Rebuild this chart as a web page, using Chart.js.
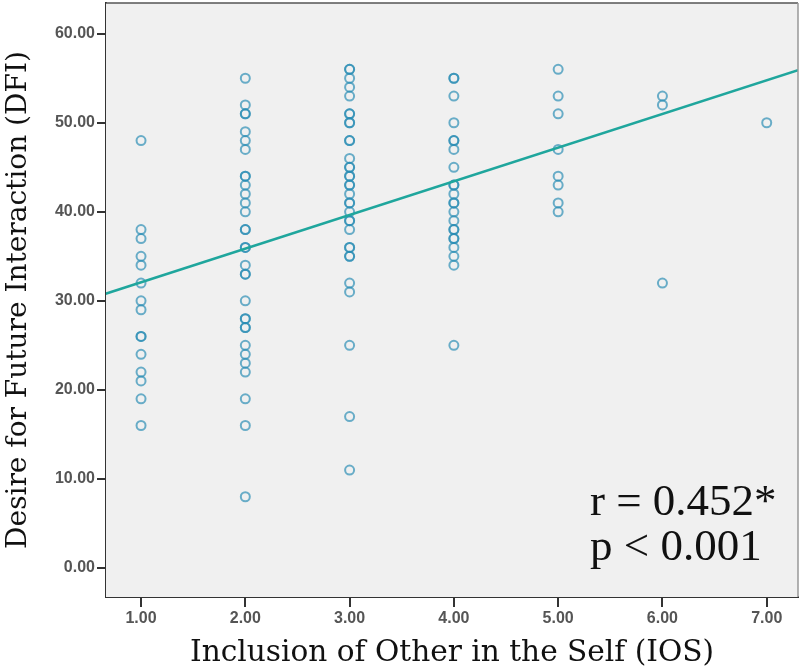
<!DOCTYPE html>
<html lang="en">
<head>
  <meta charset="UTF-8" />
  <title>IOS vs DFI</title>
  <script src="https://cdn.jsdelivr.net/npm/chart.js@4.4.0/dist/chart.umd.min.js"></script>
  <style>
    html, body { margin: 0; padding: 0; background: #fff; }
    #wrap { width: 801px; height: 671px; }
  </style>
</head>
<body>
  <div id="wrap"><canvas id="chart" width="801" height="671"></canvas></div>
  <script>
    // DFI scores for each IOS level (1..7)
    const dfi1 = [48, 38, 37, 35, 34, 32, 30, 29, 26, 26, 24, 22, 21, 19, 16];
    const dfi2 = [55, 52, 51, 51, 49, 48, 47, 44, 44, 43, 42, 41, 40, 38, 38, 36, 36, 34, 33, 33, 30, 28, 28, 27, 27, 25, 24, 23, 22, 19, 16, 8];
    const dfi3 = [56, 56, 55, 54, 53, 51, 51, 50, 50, 48, 48, 46, 45, 45, 44, 44, 43, 43, 42, 41, 41, 40, 39, 39, 38, 36, 36, 35, 35, 32, 31, 25, 17, 11];
    const dfi4 = [55, 55, 53, 50, 48, 48, 47, 45, 43, 43, 42, 41, 41, 40, 39, 38, 38, 37, 37, 36, 35, 34, 25];
    const dfi5 = [56, 53, 51, 47, 44, 43, 41, 40];
    const dfi6 = [53, 52, 32];
    const dfi7 = [50];
    const iosLevels = [1, 2, 3, 4, 5, 6, 7];

    // fit line end points (at the plot edges)
    const fitX = [0.66, 7.30];
    const fitY = [30.8, 55.9];

    const xTicks = [1, 2, 3, 4, 5, 6, 7];
    const yTicks = [0, 10, 20, 30, 40, 50, 60];

    const columns = [dfi1, dfi2, dfi3, dfi4, dfi5, dfi6, dfi7];
    const points = [];
    columns.forEach((col, i) => col.forEach(v => points.push({ x: iosLevels[i], y: v })));
    const fitLine = fitX.map((x, i) => ({ x: x, y: fitY[i] }));

    const plotBox = {
      id: 'plotBox',
      beforeDatasetsDraw(chart) {
        const { ctx, chartArea: a } = chart;
        ctx.save();
        ctx.fillStyle = '#f0f0f0';
        ctx.fillRect(a.left, a.top, a.right - a.left, a.bottom - a.top);
        ctx.restore();
      },
      afterDraw(chart) {
        const { ctx, chartArea: a } = chart;
        ctx.save();
        ctx.strokeStyle = '#555';
        ctx.lineWidth = 1.5;
        ctx.beginPath();
        ctx.moveTo(a.left, a.top);
        ctx.lineTo(a.right, a.top);
        ctx.stroke();
        ctx.strokeStyle = '#999';
        ctx.beginPath();
        ctx.moveTo(a.right, a.top);
        ctx.lineTo(a.right, a.bottom);
        ctx.stroke();

        ctx.fillStyle = '#111';
        ctx.font = '45px "Liberation Serif", serif';
        ctx.textAlign = 'left';
        ctx.textBaseline = 'alphabetic';
        ctx.fillText('r = 0.452*', a.left + 484, a.bottom - 82);
        ctx.fillText('p < 0.001', a.left + 484, a.bottom - 37);
        ctx.restore();
      }
    };

    new Chart(document.getElementById('chart'), {
      type: 'scatter',
      data: {
        datasets: [
          {
            type: 'line',
            data: fitLine,
            borderColor: '#1fa69d',
            borderWidth: 2.5,
            pointRadius: 0,
            fill: false,
            order: 0
          },
          {
            data: points,
            pointStyle: 'circle',
            pointRadius: 4.5,
            borderWidth: 2,
            borderColor: 'rgba(40,140,180,0.68)',
            backgroundColor: 'rgba(0,0,0,0)',
            order: 1
          }
        ]
      },
      options: {
        responsive: false,
        animation: false,
        layout: { autoPadding: false, padding: { top: 3, right: 3, left: 0, bottom: 0 } },
        plugins: { legend: { display: false }, tooltip: { enabled: false } },
        scales: {
          x: {
            type: 'linear',
            min: 0.664,
            max: 7.30,
            afterBuildTicks: s => { s.ticks = xTicks.map(v => ({ value: v })); },
            afterFit: s => { s.height = 74; s.paddingLeft = 0; s.paddingRight = 0; },
            grid: { display: true, drawOnChartArea: false, drawTicks: true, tickLength: 10, color: '#333', lineWidth: 2 },
            border: { display: true, color: '#333', width: 2 },
            ticks: {
              padding: 2,
              color: '#555',
              font: { family: 'Liberation Sans', size: 16, weight: 'bold' },
              callback: v => Number(v).toFixed(2)
            },
            title: {
              display: true,
              text: 'Inclusion of Other in the Self (IOS)',
              color: '#111',
              font: { family: 'DejaVu Serif', size: 29.6 },
              padding: { top: 0, bottom: 0 }
            }
          },
          y: {
            type: 'linear',
            min: -3.26,
            max: 63.45,
            afterBuildTicks: s => { s.ticks = yTicks.map(v => ({ value: v })); },
            afterFit: s => { s.width = 106; s.paddingTop = 0; s.paddingBottom = 0; },
            grid: { display: true, drawOnChartArea: false, drawTicks: true, tickLength: 9, color: '#333', lineWidth: 2 },
            border: { display: true, color: '#333', width: 2 },
            ticks: {
              padding: 2,
              color: '#555',
              font: { family: 'Liberation Sans', size: 16, weight: 'bold' },
              callback: v => Number(v).toFixed(2)
            },
            title: {
              display: true,
              text: 'Desire for Future Interaction (DFI)',
              color: '#111',
              font: { family: 'DejaVu Serif', size: 28 },
              padding: { top: 2, bottom: 0 }
            }
          }
        }
      },
      plugins: [plotBox]
    });
  </script>
</body>
</html>
